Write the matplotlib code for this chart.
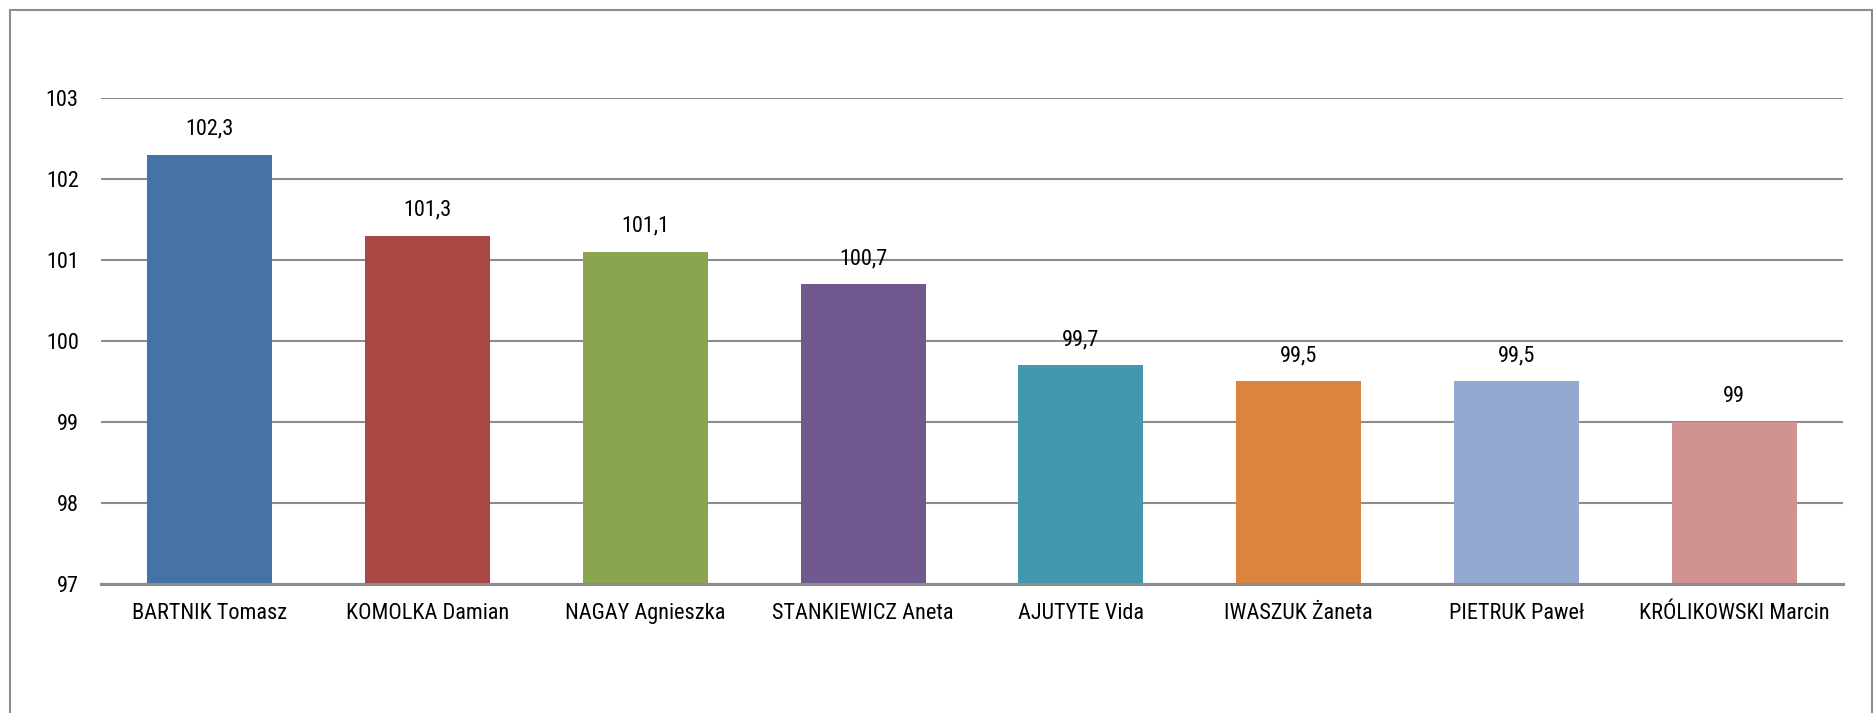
import matplotlib

matplotlib.use("Agg")
import matplotlib.pyplot as plt
from matplotlib.patches import Rectangle
from matplotlib import font_manager

names = ["BARTNIK Tomasz", "KOMOLKA Damian", "NAGAY Agnieszka", "STANKIEWICZ Aneta",
         "AJUTYTE Vida", "IWASZUK Żaneta", "PIETRUK Paweł", "KRÓLIKOWSKI Marcin"]
values = [102.3, 101.3, 101.1, 100.7, 99.7, 99.5, 99.5, 99.0]
value_labels = ["102,3", "101,3", "101,1", "100,7", "99,7", "99,5", "99,5", "99"]
colors = ["#4572A7", "#AA4643", "#89A54E", "#71588F",
          "#4198AF", "#DB843D", "#93A9CF", "#D19392"]
yticks = [97, 98, 99, 100, 101, 102, 103]

# narrow font if we have one, otherwise a slightly smaller regular sans
avail = {f.name for f in font_manager.fontManager.ttflist}
narrow = [n for n in ("Liberation Sans Narrow", "Roboto Condensed", "Arial Narrow") if n in avail]
if narrow:
    plt.rcParams["font.family"] = [narrow[0], "DejaVu Sans"]
    fsize = 16
else:
    plt.rcParams["font.family"] = ["Liberation Sans", "DejaVu Sans"]
    fsize = 14

fig = plt.figure(figsize=(18.74, 7.13), dpi=100)
ax = fig.add_axes([0.0539, 0.181, 0.9296, 0.6816])

x = range(len(names))
ax.bar(x, [v - 97 for v in values], bottom=97, width=0.574, color=colors, zorder=3)
for xi, v, lbl in zip(x, values, value_labels):
    ax.annotate(lbl, (xi, v), xytext=(0, 11), textcoords="offset points",
                ha="center", va="bottom", fontsize=fsize, color="black")

ax.set_xlim(-0.5, len(names) - 0.5)
ax.set_ylim(97, 103)
ax.set_yticks(yticks)
ax.set_xticks(list(x))
ax.set_xticklabels(names)
ax.yaxis.grid(True, color="#8c8c8c", linewidth=1.5, zorder=0)
ax.set_axisbelow(True)
for side in ("top", "right", "left"):
    ax.spines[side].set_visible(False)
ax.spines["bottom"].set_color("#8c8c8c")
ax.spines["bottom"].set_linewidth(2.2)
ax.spines["bottom"].set_zorder(4)
ax.tick_params(axis="y", length=0, pad=16, labelsize=fsize, labelcolor="black")
ax.tick_params(axis="x", length=0, pad=14, labelsize=fsize, labelcolor="black")

# outer chart border
fig.patches.append(Rectangle((10 / 1874, -0.1), 1862 / 1874, 1.1 - 10 / 713,
                             transform=fig.transFigure, fill=False,
                             edgecolor="#8c8c8c", linewidth=1.5))

fig.savefig("out.png", dpi=100)
